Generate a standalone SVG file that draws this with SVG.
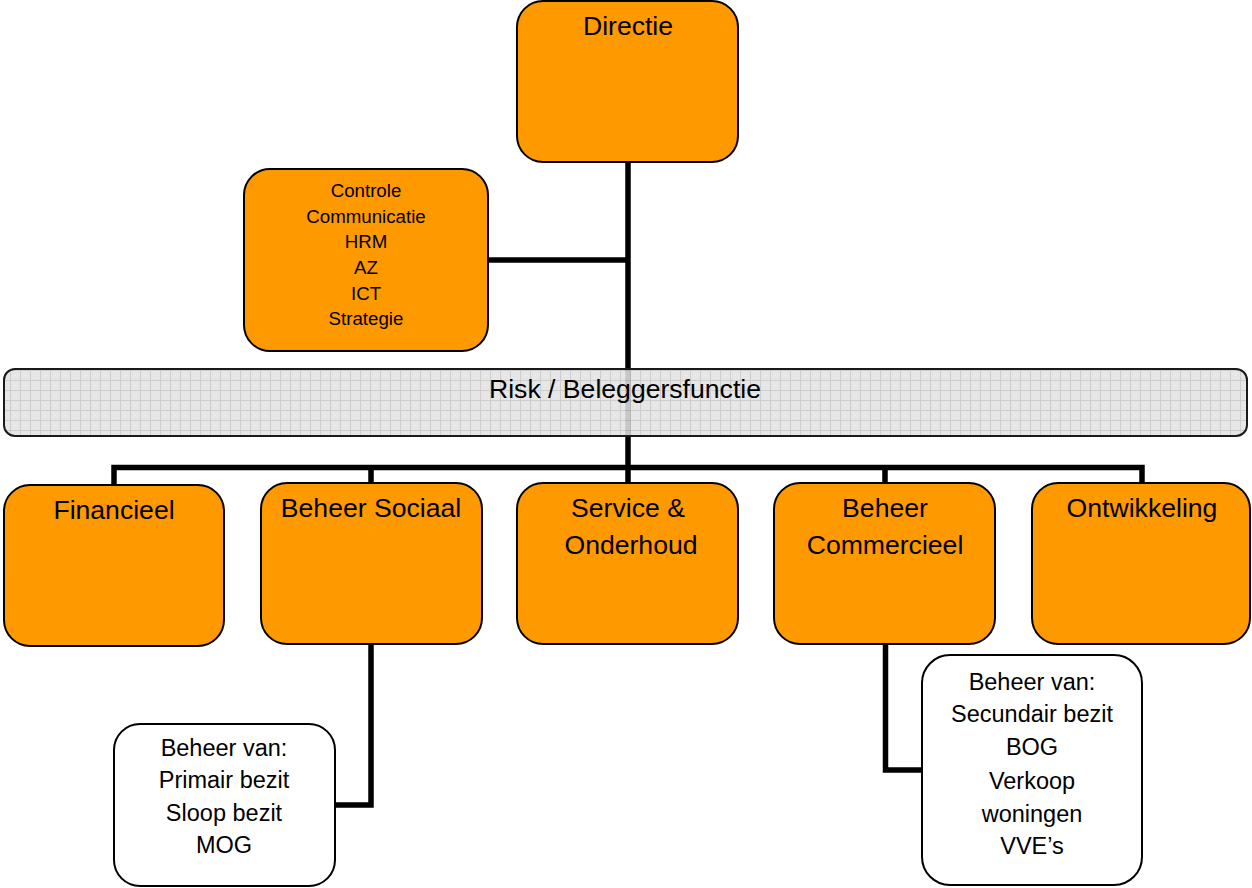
<svg xmlns="http://www.w3.org/2000/svg" width="1252" height="888" viewBox="0 0 1252 888">
<defs>
<pattern id="grid" width="10" height="10" patternUnits="userSpaceOnUse">
<rect width="10" height="10" fill="#e2e2e2"/>
<path d="M0 0.5H10M0.5 0V10" stroke="#c6c6c6" stroke-width="1" fill="none"/>
<rect x="5" y="5" width="1" height="1" fill="#f4f4f4"/>
</pattern>
<style>
.org{fill:#ff9900;stroke:#000;stroke-width:2}
.wht{fill:#fff;stroke:#000;stroke-width:2}
.band{fill:url(#grid);fill-opacity:0.88;stroke:#1a1a1a;stroke-width:2}
.t{font-family:"Liberation Sans",Arial,sans-serif;fill:#000;text-anchor:middle}
.big{font-size:26.6px}
.mid{font-size:23.5px}
.sm{font-size:18.7px}
.con{fill:none;stroke:#000;stroke-width:5.5;stroke-linejoin:miter}
</style>
</defs>
<rect width="1252" height="888" fill="#fff"/>
<g id="connectors">
<path class="con" d="M628 162V467.5"/>
<path class="con" d="M488 260H628"/>
<path class="con" d="M114 485V467.5H1142V484"/>
<path class="con" d="M371 467.5V484M628 467.5V484M885 467.5V484"/>
<path class="con" d="M371 644V805H335"/>
<path class="con" d="M885.5 644V770H922"/>
</g>
<g id="risk">
<rect class="band" x="4" y="369" width="1243" height="67" rx="11"/>
<text class="t big" x="625" y="398">Risk / Beleggersfunctie</text>
</g>
<g id="directie">
<rect class="org" x="517" y="1" width="221" height="161" rx="26"/>
<text class="t big" x="628" y="35">Directie</text>
</g>
<g id="staf">
<rect class="org" x="244" y="169" width="244" height="182" rx="26"/>
<text class="t sm" x="366" y="197">Controle</text>
<text class="t sm" x="366" y="223">Communicatie</text>
<text class="t sm" x="366" y="248">HRM</text>
<text class="t sm" x="366" y="274">AZ</text>
<text class="t sm" x="366" y="300">ICT</text>
<text class="t sm" x="366" y="325">Strategie</text>
</g>
<g id="financieel">
<rect class="org" x="4" y="485" width="220" height="161" rx="26"/>
<text class="t big" x="114" y="519">Financieel</text>
</g>
<g id="beheer-sociaal">
<rect class="org" x="261" y="483" width="221" height="161" rx="26"/>
<text class="t big" x="371" y="517">Beheer Sociaal</text>
</g>
<g id="service">
<rect class="org" x="517" y="483" width="221" height="161" rx="26"/>
<text class="t big" x="628" y="517">Service &amp;</text>
<text class="t big" x="631" y="554">Onderhoud</text>
</g>
<g id="beheer-commercieel">
<rect class="org" x="774" y="483" width="221" height="161" rx="26"/>
<text class="t big" x="885" y="517">Beheer</text>
<text class="t big" x="885" y="554">Commercieel</text>
</g>
<g id="ontwikkeling">
<rect class="org" x="1032" y="483" width="218" height="161" rx="26"/>
<text class="t big" x="1142" y="517">Ontwikkeling</text>
</g>
<g id="sociaal-bezit">
<rect class="wht" x="114" y="724" width="221" height="162" rx="26"/>
<text class="t mid" x="224" y="756">Beheer van:</text>
<text class="t mid" x="224" y="788">Primair bezit</text>
<text class="t mid" x="224" y="821">Sloop bezit</text>
<text class="t mid" x="224" y="853">MOG</text>
</g>
<g id="commercieel-bezit">
<rect class="wht" x="922" y="655" width="220" height="230" rx="28"/>
<text class="t mid" x="1032" y="690">Beheer van:</text>
<text class="t mid" x="1032" y="722">Secundair bezit</text>
<text class="t mid" x="1032" y="755">BOG</text>
<text class="t mid" x="1032" y="789">Verkoop</text>
<text class="t mid" x="1032" y="822">woningen</text>
<text class="t mid" x="1032" y="854">VVE’s</text>
</g>
</svg>
